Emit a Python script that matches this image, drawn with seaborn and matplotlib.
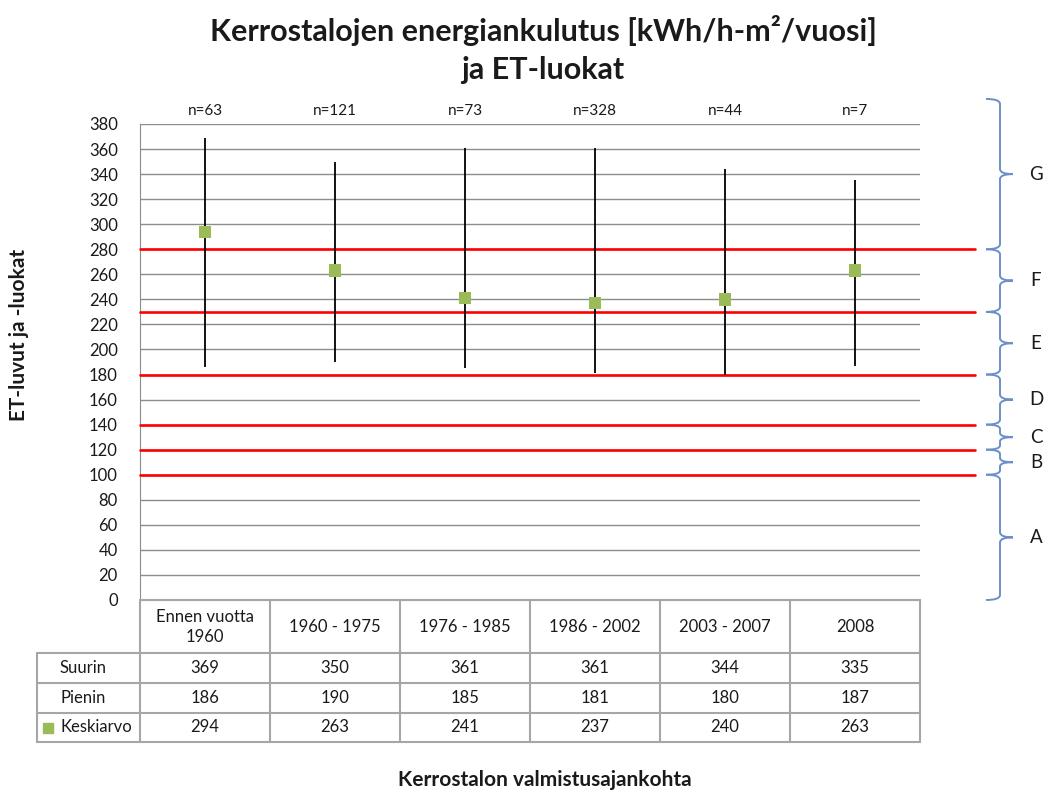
import numpy as np
import pandas as pd
import matplotlib
matplotlib.use("Agg")
import matplotlib.pyplot as plt
import seaborn as sns
from matplotlib.path import Path
from matplotlib.patches import PathPatch

# Data
periods = ["Ennen vuotta\n1960", "1960 - 1975", "1976 - 1985", "1986 - 2002", "2003 - 2007", "2008"]
n_counts = [63, 121, 73, 328, 44, 7]
suurin = [369, 350, 361, 361, 344, 335]
pienin = [186, 190, 185, 181, 180, 187]
keskiarvo = [294, 263, 241, 237, 240, 263]

# ET classes and their limits
class_labels = ["A", "B", "C", "D", "E", "F", "G"]
class_bounds = [0, 100, 120, 140, 180, 230, 280, 400]
yticks = list(range(0, 381, 20))

sns.set_style("white")
plt.rcParams['font.family'] = ['Lato', 'DejaVu Sans']

W, H = 1046, 791
GREEN = "#9bbb59"
GRID = "#8c8c8c"
TABLE = "#a6a6a6"
BRACE = "#6b8fc6"
TXT = "#1a1a1a"

df = pd.DataFrame({"pos": range(len(periods)), "suurin": suurin,
                   "pienin": pienin, "keskiarvo": keskiarvo})

fig = plt.figure(figsize=(W / 100, H / 100), dpi=100)

# plot area in pixel coords: x 140..920, y 124..600
ax = fig.add_axes([140 / W, 1 - 600 / H, 780 / W, 476 / H])
ax.set_xlim(-0.5, len(periods) - 0.5)
ax.set_ylim(0, 380)
ax.set_yticks(yticks)
ax.set_xticks([])
ax.yaxis.grid(True, color=GRID, lw=1)
ax.set_axisbelow(True)
for s in ["top", "right"]:
    ax.spines[s].set_visible(False)
ax.spines["left"].set_color(GRID)
ax.spines["bottom"].set_color(TABLE)
ax.tick_params(axis="y", length=0, pad=16, labelsize=12, labelcolor=TXT)

# class limit lines (extend past the plot area)
x_end = (975 - 140) / 130 - 0.5
for b in class_bounds[1:-1]:
    ax.plot([-0.5, x_end], [b, b], color="red", lw=1.9, clip_on=False, zorder=3)

# min-max ranges and means
ax.vlines(df["pos"], df["pienin"], df["suurin"], color="black", lw=1.3, zorder=4)
sns.scatterplot(data=df, x="pos", y="keskiarvo", marker="s", s=80, color=GREEN,
                edgecolor="none", zorder=5, ax=ax, legend=False)
ax.set_xlabel("")
ax.set_ylabel("")

# curly braces for the classes
def axfrac(px):
    return (px - 140) / 780

trans = ax.get_yaxis_transform()
x0, x1, x2 = axfrac(986), axfrac(1000), axfrac(1013)
for lab, lo, hi in zip(class_labels, class_bounds[:-1], class_bounds[1:]):
    r = min(4, (hi - lo) / 6)
    ym = (lo + hi) / 2
    verts = [(x0, hi), (x1, hi), (x1, hi - r),
             (x1, ym + r),
             (x1, ym), (x2, ym),
             (x1, ym), (x1, ym - r),
             (x1, lo + r),
             (x1, lo), (x0, lo)]
    codes = [Path.MOVETO, Path.CURVE3, Path.CURVE3,
             Path.LINETO,
             Path.CURVE3, Path.CURVE3,
             Path.CURVE3, Path.CURVE3,
             Path.LINETO,
             Path.CURVE3, Path.CURVE3]
    ax.add_patch(PathPatch(Path(verts, codes), fill=False, edgecolor=BRACE,
                           lw=1.4, transform=trans, clip_on=False))
    ax.text(axfrac(1036), ym, lab, transform=trans, ha="center", va="center",
            fontsize=13.5, color=TXT)

# n labels above the plot
for i, n in enumerate(n_counts):
    ax.text(i, 390, f"n={n}", ha="center", va="center", fontsize=11,
            color=TXT, clip_on=False)

# data table under the plot, drawn in pixel coordinates
tax = fig.add_axes([0, 0, 1, 1])
tax.set_xlim(0, W)
tax.set_ylim(H, 0)
tax.axis("off")
col_x = [140 + 130 * i for i in range(len(periods) + 1)]
row_y = [600, 653, 683, 713, 742]
tax.plot([140, 920], [600, 600], color=TABLE, lw=1.5)
for y in row_y[1:]:
    tax.plot([37, 920], [y, y], color=TABLE, lw=1.5)
tax.plot([37, 37], [653, 742], color=TABLE, lw=1.5)
for x in col_x:
    tax.plot([x, x], [600, 742], color=TABLE, lw=1.5)

for i, p in enumerate(periods):
    cx = col_x[i] + 65
    tax.text(cx, 627, p, ha="center", va="center", fontsize=12,
             color=TXT, linespacing=1.3)
    for row, vals in enumerate([suurin, pienin, keskiarvo]):
        cy = (row_y[row + 1] + row_y[row + 2]) / 2
        tax.text(cx, cy, str(vals[i]), ha="center", va="center",
                 fontsize=12, color=TXT)

row_names = ["Suurin", "Pienin", "Keskiarvo"]
for row, name in enumerate(row_names):
    cy = (row_y[row + 1] + row_y[row + 2]) / 2
    tax.text(60, cy, name, ha="left", va="center", fontsize=12, color=TXT)
tax.plot([48], [(row_y[3] + row_y[4]) / 2], marker="s", ms=6.5, color=GREEN, ls="none")

# titles and axis labels
fig.text(543 / W, 1 - 30 / H, "Kerrostalojen energiankulutus [kWh/h-m²/vuosi]",
         ha="center", va="center", fontsize=22, fontweight="bold", color=TXT)
fig.text(543 / W, 1 - 70 / H, "ja ET-luokat",
         ha="center", va="center", fontsize=22, fontweight="bold", color=TXT)
fig.text(19 / W, 1 - 335 / H, "ET-luvut ja -luokat", rotation=90,
         ha="center", va="center", fontsize=15, fontweight="bold", color=TXT)
fig.text(545 / W, 1 - 780 / H, "Kerrostalon valmistusajankohta",
         ha="center", va="center", fontsize=15, fontweight="bold", color=TXT)

fig.savefig("out.png", dpi=100)
